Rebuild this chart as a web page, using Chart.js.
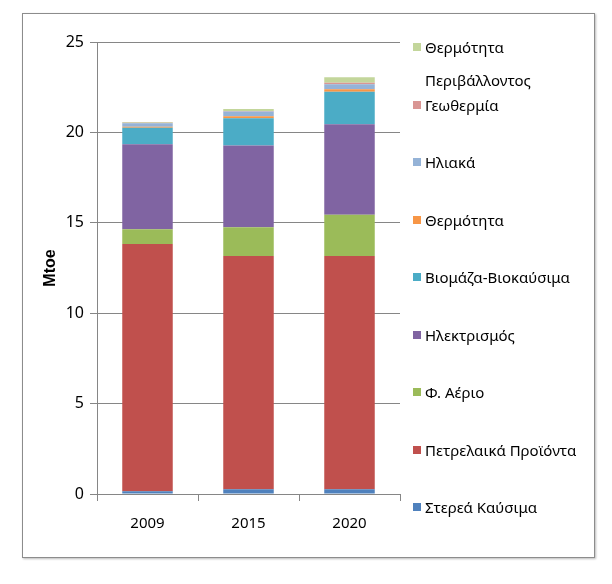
<!DOCTYPE html>
<html>
<head>
<meta charset="utf-8">
<script src="https://cdn.jsdelivr.net/npm/chart.js@4.4.1/dist/chart.umd.min.js"></script>
<style>
    html, body { margin: 0; padding: 0; background: #fff; }
    #wrap { position: relative; width: 612px; height: 584px; }
    #frame {
        position: absolute; left: 22px; top: 13px; width: 571px; height: 543px;
        border: 1px solid #8c8c8c; box-shadow: 1px 1px 2px #bbb;
    }
    #chart { position: absolute; left: 0; top: 0; }
    #legend { position: absolute; left: 0; top: 0; font-family: "Noto Sans", sans-serif; font-size: 15px; color: #000; }
    .item { position: absolute; left: 413px; line-height: 33px; }
    .box { position: absolute; left: 0; top: 12px; width: 8px; height: 8px; }
    .txt { position: absolute; left: 12px; top: 0; white-space: nowrap; }
</style>
</head>
<body>
<div id="wrap">
    <div id="frame"></div>
    <canvas id="chart" width="612" height="584"></canvas>
    <div id="legend"></div>
</div>
<script>
    const years = ['2009', '2015', '2020'];
    const seriesNames = [
        'Στερεά Καύσιμα',
        'Πετρελαικά Προϊόντα',
        'Φ. Αέριο',
        'Ηλεκτρισμός',
        'Βιομάζα-Βιοκαύσιμα',
        'Θερμότητα',
        'Ηλιακά',
        'Γεωθερμία',
        'Θερμότητα Περιβάλλοντος'
    ];
    const solidFuels = [0.15, 0.26, 0.26];
    const oilProducts = [13.68, 12.9, 12.9];
    const naturalGas = [0.81, 1.59, 2.29];
    const electricity = [4.7, 4.52, 5.0];
    const biomass = [0.92, 1.51, 1.8];
    const heat = [0.05, 0.12, 0.13];
    const solar = [0.2, 0.25, 0.29];
    const geothermal = [0.02, 0.03, 0.08];
    const ambientHeat = [0.04, 0.12, 0.3];
    const yTicks = [0, 5, 10, 15, 20, 25];

    const seriesValues = [solidFuels, oilProducts, naturalGas, electricity, biomass, heat, solar, geothermal, ambientHeat];
    const colors = ['#4f81bd', '#c0504d', '#9bbb59', '#8064a2', '#4bacc6', '#f79646', '#95b3d7', '#d99694', '#c3d69b'];
    const axisColor = '#868686';
    const fontFamily = '"Noto Sans", sans-serif';

    const datasets = seriesNames.map(function (name, i) {
        return {
            label: name,
            data: seriesValues[i].slice(),
            backgroundColor: colors[i],
            borderWidth: 0,
            barPercentage: 0.5,
            categoryPercentage: 1.0
        };
    });

    new Chart(document.getElementById('chart').getContext('2d'), {
        type: 'bar',
        data: { labels: years, datasets: datasets },
        options: {
            responsive: false,
            animation: false,
            layout: { padding: { left: 38, top: 42, right: 212, bottom: 50 } },
            plugins: { legend: { display: false }, tooltip: { enabled: false } },
            scales: {
                x: {
                    stacked: true,
                    border: { color: axisColor, width: 1 },
                    grid: { drawOnChartArea: false, drawTicks: true, tickLength: 7, color: axisColor },
                    ticks: { color: '#000', font: { family: fontFamily, size: 15 }, padding: 14 },
                    afterFit: function (scale) { scale.height = 40; }
                },
                y: {
                    stacked: true,
                    min: 0,
                    max: 25,
                    afterBuildTicks: function (scale) {
                        scale.ticks = yTicks.map(function (v) { return { value: v }; });
                    },
                    border: { color: axisColor, width: 1 },
                    grid: { color: axisColor, tickLength: 7 },
                    ticks: { color: '#000', font: { family: fontFamily, size: 16 }, padding: 6 },
                    title: {
                        display: true,
                        text: 'Mtoe',
                        color: '#000',
                        font: { family: '"Liberation Sans", Arial, sans-serif', size: 16, weight: 'bold' },
                        padding: { top: 3, bottom: 0 }
                    },
                    afterFit: function (scale) { scale.width = 59; }
                }
            }
        }
    });

    // legend on the right, top item is the last series
    const legend = document.getElementById('legend');
    const order = seriesNames.map(function (_, i) { return i; }).reverse();
    order.forEach(function (idx, row) {
        const item = document.createElement('div');
        item.className = 'item';
        item.style.top = (31 + row * 57.5) + 'px';
        const box = document.createElement('div');
        box.className = 'box';
        box.style.background = colors[idx];
        const txt = document.createElement('div');
        txt.className = 'txt';
        const name = seriesNames[idx];
        if (name === 'Θερμότητα Περιβάλλοντος') {
            txt.innerHTML = 'Θερμότητα<br>Περιβάλλοντος';
        } else {
            txt.textContent = name;
        }
        item.appendChild(box);
        item.appendChild(txt);
        legend.appendChild(item);
    });
</script>
</body>
</html>
